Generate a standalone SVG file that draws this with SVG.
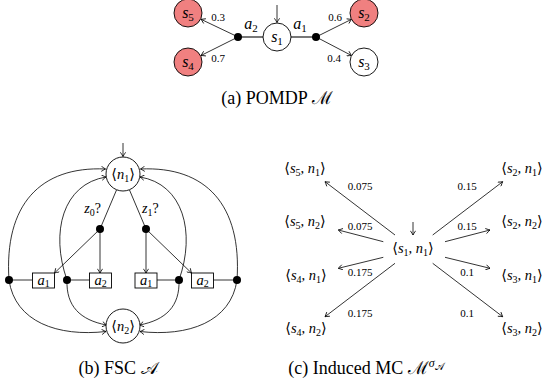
<svg xmlns="http://www.w3.org/2000/svg" width="544" height="389" viewBox="0 0 544 389">
<style>
text{font-family:"Liberation Serif","DejaVu Serif",serif;fill:#000}
.i{font-style:italic}
.st{fill:#fff;stroke:#000;stroke-width:0.9}
.bad{fill:#F08080;stroke:#000;stroke-width:0.9}
.e{fill:none;stroke:#000;stroke-width:0.8}
.ea{fill:none;stroke:#000;stroke-width:0.8;marker-end:url(#ah)}
.act{fill:none;stroke:#555;stroke-width:1.6}
.dot{fill:#000}
.lab{font-size:16px;text-anchor:middle}
.p{font-size:11px;text-anchor:middle}
.pc{font-size:11px;text-anchor:middle}
.mc{font-size:14.5px;text-anchor:middle}
.cap{font-size:18px;text-anchor:middle}
</style>
<defs>
<marker id="ah" viewBox="-5 -3 6 6" refX="0" refY="0" markerWidth="6" markerHeight="6" markerUnits="userSpaceOnUse" orient="auto">
<path d="M-4.2,-2.6 Q-1.2,-0.6 0,0 Q-1.2,0.6 -4.2,2.6" fill="none" stroke="#000" stroke-width="0.8"/>
</marker>
</defs>

<!-- (a) POMDP -->
<g id="connectors-a">
<line class="ea" x1="277" y1="5" x2="277" y2="22.5"/>
<line class="act" x1="263" y1="37" x2="238" y2="37"/>
<line class="act" x1="291" y1="37" x2="316" y2="37"/>
<line class="ea" x1="235" y1="35.5" x2="201" y2="19.3"/>
<line class="ea" x1="235" y1="38.5" x2="201" y2="55.5"/>
<line class="ea" x1="319" y1="35.5" x2="351.5" y2="19.3"/>
<line class="ea" x1="319" y1="38.5" x2="351.5" y2="55.5"/>
<circle class="dot" cx="238" cy="37" r="4"/>
<circle class="dot" cx="316" cy="37" r="4"/>
<text class="p" x="218" y="20.5">0.3</text>
<text class="p" x="218" y="62">0.7</text>
<text class="p" x="335" y="20.5">0.6</text>
<text class="p" x="334" y="62">0.4</text>
<text class="lab" x="251" y="29"><tspan class="i">a</tspan><tspan font-size="11" dy="3">2</tspan></text>
<text class="lab" x="300" y="29"><tspan class="i">a</tspan><tspan font-size="11" dy="3">1</tspan></text>
</g>
<g id="s1"><circle class="st" cx="277" cy="37" r="14"/><text class="lab" x="277" y="41.5"><tspan class="i">s</tspan><tspan font-size="11" dy="3">1</tspan></text></g>
<g id="s5"><circle class="bad" cx="188" cy="13" r="14"/><text class="lab" x="188" y="17.5"><tspan class="i">s</tspan><tspan font-size="11" dy="3">5</tspan></text></g>
<g id="s4"><circle class="bad" cx="188" cy="62" r="14"/><text class="lab" x="188" y="66.5"><tspan class="i">s</tspan><tspan font-size="11" dy="3">4</tspan></text></g>
<g id="s2"><circle class="bad" cx="364" cy="13" r="14"/><text class="lab" x="364" y="17.5"><tspan class="i">s</tspan><tspan font-size="11" dy="3">2</tspan></text></g>
<g id="s3"><circle class="st" cx="364" cy="62" r="14"/><text class="lab" x="364" y="66.5"><tspan class="i">s</tspan><tspan font-size="11" dy="3">3</tspan></text></g>
<text class="cap" x="277" y="104">(a) POMDP ℳ</text>

<!-- (b) FSC -->
<g id="connectors-b">
<line class="ea" x1="123" y1="143" x2="123" y2="156.5"/>
<line class="e" x1="116.5" y1="190" x2="100" y2="229"/>
<line class="e" x1="129.5" y1="190" x2="146" y2="229"/>
<line class="ea" x1="100" y1="229" x2="100" y2="273"/>
<line class="ea" x1="100" y1="229" x2="54.5" y2="273"/>
<line class="ea" x1="146" y1="229" x2="146" y2="273"/>
<line class="ea" x1="146" y1="229" x2="191.5" y2="273"/>
<line class="e" x1="9" y1="280" x2="32.5" y2="280"/>
<line class="e" x1="67" y1="280" x2="89.5" y2="280"/>
<line class="e" x1="157" y1="280" x2="179" y2="280"/>
<line class="e" x1="213.5" y1="280" x2="237" y2="280"/>
<path class="ea" d="M9,280 C4,205 40,166 105.5,169"/>
<path class="ea" d="M67,280 C50,232 63,184 106,177"/>
<path class="ea" d="M9,280 C15,322 58,337 106,331.5"/>
<path class="ea" d="M67,280 C66,306 80,320 106.5,325"/>
<path class="ea" d="M237,280 C242,205 206,166 140.5,169"/>
<path class="ea" d="M179,280 C196,232 183,184 140,177"/>
<path class="ea" d="M237,280 C231,322 188,337 140,331.5"/>
<path class="ea" d="M179,280 C180,306 166,320 139.5,325"/>
<circle class="dot" cx="100" cy="229" r="4"/>
<circle class="dot" cx="146" cy="229" r="4"/>
<circle class="dot" cx="9" cy="280" r="4"/>
<circle class="dot" cx="67" cy="280" r="4"/>
<circle class="dot" cx="179" cy="280" r="4"/>
<circle class="dot" cx="237" cy="280" r="4"/>
<text x="101" y="213" font-size="14" text-anchor="end"><tspan class="i">z</tspan><tspan font-size="10" dy="3">0</tspan><tspan dy="-3">?</tspan></text>
<text x="142" y="213" font-size="14"><tspan class="i">z</tspan><tspan font-size="10" dy="3">1</tspan><tspan dy="-3">?</tspan></text>
</g>
<g id="n1"><circle class="st" cx="123" cy="174" r="17"/><text class="mc" x="123" y="178.5"><tspan>⟨</tspan><tspan class="i">n</tspan><tspan font-size="10" dy="3">1</tspan><tspan dy="-3">⟩</tspan></text></g>
<g id="n2"><circle class="st" cx="123" cy="326" r="17"/><text class="mc" x="123" y="330.5"><tspan>⟨</tspan><tspan class="i">n</tspan><tspan font-size="10" dy="3">2</tspan><tspan dy="-3">⟩</tspan></text></g>
<g id="box-a1-left"><rect class="st" x="32.5" y="273" width="22" height="15"/><text class="mc" x="43.5" y="284.5"><tspan class="i">a</tspan><tspan font-size="10" dy="2.5">1</tspan></text></g>
<g id="box-a2-left"><rect class="st" x="89.5" y="273" width="22" height="15"/><text class="mc" x="100.5" y="284.5"><tspan class="i">a</tspan><tspan font-size="10" dy="2.5">2</tspan></text></g>
<g id="box-a1-right"><rect class="st" x="135" y="273" width="22" height="15"/><text class="mc" x="146" y="284.5"><tspan class="i">a</tspan><tspan font-size="10" dy="2.5">1</tspan></text></g>
<g id="box-a2-right"><rect class="st" x="191.5" y="273" width="22" height="15"/><text class="mc" x="202.5" y="284.5"><tspan class="i">a</tspan><tspan font-size="10" dy="2.5">2</tspan></text></g>
<text class="cap" x="118" y="374">(b) FSC 𝒜</text>

<!-- (c) Induced MC -->
<g id="connectors-c">
<line class="ea" x1="413" y1="222" x2="413" y2="235"/>
<line class="ea" x1="395" y1="235" x2="325" y2="181.7"/>
<line class="ea" x1="383.3" y1="241.7" x2="338.3" y2="230"/>
<line class="ea" x1="383.3" y1="257.3" x2="338.3" y2="268.3"/>
<line class="ea" x1="395" y1="263.3" x2="325" y2="316.7"/>
<line class="ea" x1="432.7" y1="235" x2="502.7" y2="181.7"/>
<line class="ea" x1="445" y1="241.7" x2="490" y2="230"/>
<line class="ea" x1="445" y1="257.3" x2="490" y2="268.3"/>
<line class="ea" x1="432.7" y1="263.3" x2="502.7" y2="316.7"/>
<text class="pc" x="360" y="190">0.075</text>
<text class="pc" x="360" y="230">0.075</text>
<text class="pc" x="360" y="276">0.175</text>
<text class="pc" x="360" y="317">0.175</text>
<text class="pc" x="467" y="190">0.15</text>
<text class="pc" x="467" y="230">0.15</text>
<text class="pc" x="467" y="276">0.1</text>
<text class="pc" x="467" y="317">0.1</text>
</g>
<g id="s1n1"><text class="mc" x="413" y="252.5">⟨<tspan class="i">s</tspan><tspan font-size="10" dy="3">1</tspan><tspan dy="-3">, </tspan><tspan class="i">n</tspan><tspan font-size="10" dy="3">1</tspan><tspan dy="-3">⟩</tspan></text></g>
<g id="s5n1"><text class="mc" x="305" y="172.5">⟨<tspan class="i">s</tspan><tspan font-size="10" dy="3">5</tspan><tspan dy="-3">, </tspan><tspan class="i">n</tspan><tspan font-size="10" dy="3">1</tspan><tspan dy="-3">⟩</tspan></text></g>
<g id="s5n2"><text class="mc" x="305" y="226">⟨<tspan class="i">s</tspan><tspan font-size="10" dy="3">5</tspan><tspan dy="-3">, </tspan><tspan class="i">n</tspan><tspan font-size="10" dy="3">2</tspan><tspan dy="-3">⟩</tspan></text></g>
<g id="s4n1"><text class="mc" x="306" y="279.5">⟨<tspan class="i">s</tspan><tspan font-size="10" dy="3">4</tspan><tspan dy="-3">, </tspan><tspan class="i">n</tspan><tspan font-size="10" dy="3">1</tspan><tspan dy="-3">⟩</tspan></text></g>
<g id="s4n2"><text class="mc" x="306" y="333">⟨<tspan class="i">s</tspan><tspan font-size="10" dy="3">4</tspan><tspan dy="-3">, </tspan><tspan class="i">n</tspan><tspan font-size="10" dy="3">2</tspan><tspan dy="-3">⟩</tspan></text></g>
<g id="s2n1"><text class="mc" x="522" y="172.5">⟨<tspan class="i">s</tspan><tspan font-size="10" dy="3">2</tspan><tspan dy="-3">, </tspan><tspan class="i">n</tspan><tspan font-size="10" dy="3">1</tspan><tspan dy="-3">⟩</tspan></text></g>
<g id="s2n2"><text class="mc" x="522" y="226">⟨<tspan class="i">s</tspan><tspan font-size="10" dy="3">2</tspan><tspan dy="-3">, </tspan><tspan class="i">n</tspan><tspan font-size="10" dy="3">2</tspan><tspan dy="-3">⟩</tspan></text></g>
<g id="s3n1"><text class="mc" x="522" y="279.5">⟨<tspan class="i">s</tspan><tspan font-size="10" dy="3">3</tspan><tspan dy="-3">, </tspan><tspan class="i">n</tspan><tspan font-size="10" dy="3">1</tspan><tspan dy="-3">⟩</tspan></text></g>
<g id="s3n2"><text class="mc" x="522" y="333">⟨<tspan class="i">s</tspan><tspan font-size="10" dy="3">3</tspan><tspan dy="-3">, </tspan><tspan class="i">n</tspan><tspan font-size="10" dy="3">2</tspan><tspan dy="-3">⟩</tspan></text></g>
<text class="cap" x="366" y="374">(c) Induced MC ℳ<tspan font-size="12" dy="-7" class="i">σ</tspan><tspan font-size="10" dy="3">𝒜</tspan></text>
</svg>
